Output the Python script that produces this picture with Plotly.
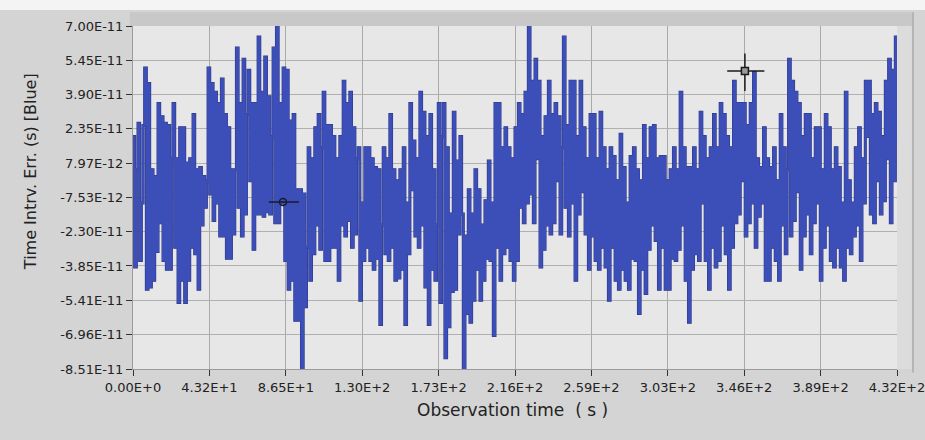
import numpy as np
import plotly.graph_objects as go

time_err_ps = [
    20, -39, 5, 26, -36, -10, 25, 51, -49, 44, -48, 5, -45, 2, -32,
    35, -19, 29, -36, 26, -40, 25, -40, 10, 35, -30, 10, -55, 24, -45,
    24, -55, 8, -45, 10, -30, 30, -33, 5, -49, 6, -20, 2, -12, 0,
    51, -6, 44, -18, 40, -10, 35, -25, 46, -25, 30, -35, 24, -35, 5,
    -24, 5, 60, -12, 35, -25, 55, -15, 30, 50, 0, 35, -31, 35, -15,
    65, -15, 40, -16, 56, -14, 38, -15, 20, 60, -19, 70, -19, 35, -10,
    51, -36, 50, -49, 27, -45, 30, -63, -4, -63, -4, -85, -6, -57, -30,
    15, -45, 10, -33, 24, -20, 30, -31, 15, 40, -36, 25, -36, 25, -30,
    20, -30, 10, -45, 20, -20, 45, -25, 35, -18, 40, -30, 24, -24, 10,
    15, -54, -10, -36, 15, -30, 15, -36, 10, -40, 6, -35, 5, -65, -20,
    15, -33, 10, -36, 30, -30, 5, -45, 0, -44, 5, -40, 15, -65, -10,
    -33, 35, -4, 18, -25, 10, -30, 40, -20, 31, -48, 20, -65, 30, -40,
    5, -45, -20, 35, -55, 20, 35, -80, 15, -66, -15, -50, 31, -49, 9,
    -24, 20, -15, -85, -25, -60, -4, -64, -15, -54, 5, -40, -4, -54, -20,
    -45, -9, -35, 9, -36, -10, -70, 35, -30, 35, -45, 15, -33, 24, -30,
    15, -36, 10, -45, 24, -36, 35, -12, 30, -19, 40, -10, 70, -6, 45,
    -19, 55, 10, 45, -39, 20, -31, 29, -20, 45, -24, 30, -19, 35, 0,
    29, -24, 15, 65, -12, 25, -25, 45, -10, 45, -45, 20, -15, 45, -5,
    24, -24, 10, -40, 30, -25, 30, -36, 10, -40, 31, -30, 15, -39, 5,
    -54, 15, -30, 11, -45, 0, -49, 21, -40, 6, -45, -10, -49, 11, -35,
    15, -36, 5, -60, 0, -40, 25, -51, 10, -31, 24, -20, 25, -27, 10,
    -49, 11, -30, 11, -49, 0, -49, 5, -35, 15, -36, 5, -31, 40, -20,
    15, -45, 6, -64, 6, -40, 15, -33, 5, -36, 31, -10, 20, -36, 10,
    -49, 15, -30, 30, -39, 15, -36, 35, -20, 30, -33, 20, -49, 15, -30,
    45, -19, 35, -15, 35, 0, 35, -25, 25, -19, 35, -10, 49, -30, 10,
    -16, 6, -10, 24, -45, 10, -45, 6, -30, 15, -36, 0, -45, 30, -20,
    15, -33, 5, 55, -25, 45, -18, 40, -5, 35, -40, 20, -25, 30, -15,
    30, -33, 10, -19, 24, -10, 24, -45, 5, -30, 30, -20, 24, -36, 5,
    -39, 15, -30, 6, -39, -10, -45, 40, -30, 0, -33, -10, -25, 15, -20,
    24, -36, 10, -10, 45, 20, 45, -15, 30, -19, 35, 0, 31, -15, 20,
    -9, 45, 10, 55, -19, 50, 0, 65, 18,
]

obs_span_s = 432.0

x_tick_vals = [0, 43.2, 86.4, 129.6, 172.8, 216.0, 259.2, 302.4, 345.6, 388.8, 432.0]
x_tick_text = ["0.00E+0", "4.32E+1", "8.65E+1", "1.30E+2", "1.73E+2", "2.16E+2",
               "2.59E+2", "3.03E+2", "3.46E+2", "3.89E+2", "4.32E+2"]

y_tick_vals = [7.00e-11, 5.45e-11, 3.90e-11, 2.35e-11, 7.97e-12, -7.53e-12,
               -2.30e-11, -3.85e-11, -5.41e-11, -6.96e-11, -8.51e-11]
y_tick_text = ["7.00E-11", "5.45E-11", "3.90E-11", "2.35E-11", "7.97E-12", "-7.53E-12",
               "-2.30E-11", "-3.85E-11", "-5.41E-11", "-6.96E-11", "-8.51E-11"]

x_title = "Observation time  ( s )"
y_title = "Time Intrv. Err. (s) [Blue]"

# cursor positions (time s, value ps)
cursor_t = [84.8, 346.0]
cursor_v = [-9.6, 49.6]

vals = np.array(time_err_ps, dtype=float) * 1e-12
t = np.arange(len(vals)) * (obs_span_s / (len(vals) - 1))

fig = go.Figure()
fig.add_trace(go.Scatter(x=t, y=vals, mode="lines", line_shape="hv",
                         line=dict(color="#2b3384", width=3.0), hoverinfo="skip",
                         showlegend=False))
fig.add_trace(go.Scatter(x=t, y=vals, mode="lines", line_shape="hv",
                         line=dict(color="#3c4fb8", width=2.0),
                         showlegend=False))

# cursors
c1t, c2t = cursor_t
c1v, c2v = cursor_v[0] * 1e-12, cursor_v[1] * 1e-12
fig.add_trace(go.Scatter(x=[c1t - 8, c1t + 9], y=[c1v, c1v], mode="lines",
                         line=dict(color="#1a1a2a", width=1.5), showlegend=False))
fig.add_trace(go.Scatter(x=[c1t], y=[c1v], mode="markers",
                         marker=dict(symbol="circle-open", size=7, color="#1a1a2a",
                                     line=dict(width=1.5)), showlegend=False))
fig.add_trace(go.Scatter(x=[c2t - 10, c2t + 11], y=[c2v, c2v], mode="lines",
                         line=dict(color="#1a1a1a", width=1.5), showlegend=False))
fig.add_trace(go.Scatter(x=[c2t, c2t], y=[c2v + 8e-12, c2v - 9e-12], mode="lines",
                         line=dict(color="#1a1a1a", width=1.5), showlegend=False))
fig.add_trace(go.Scatter(x=[c2t], y=[c2v], mode="markers",
                         marker=dict(symbol="square", size=7, color="#9a9a9a",
                                     line=dict(width=1.5, color="#1a1a1a")), showlegend=False))

font_family = "DejaVu Sans"
fig.update_layout(
    width=925, height=440,
    margin=dict(l=133, r=28, t=26, b=71),
    paper_bgcolor="#d4d4d4",
    plot_bgcolor="#e7e7e7",
    font=dict(family=font_family, color="#222222", size=13),
    xaxis=dict(
        range=[0, obs_span_s], tickvals=x_tick_vals, ticktext=x_tick_text,
        showgrid=True, gridcolor="#a9a9a9", gridwidth=1,
        ticks="outside", ticklen=6, tickcolor="#333333",
        showline=True, linecolor="#9a9a9a", zeroline=False,
        ticklabeloverflow="allow", automargin=False,
        tickfont=dict(size=13, family=font_family, color="#222222"),
    ),
    yaxis=dict(
        range=[-8.51e-11, 7.00e-11], tickvals=y_tick_vals, ticktext=y_tick_text,
        showgrid=True, gridcolor="#b0b0b0", gridwidth=1,
        ticks="outside", ticklen=6, tickcolor="#333333",
        showline=True, linecolor="#9a9a9a", zeroline=False, automargin=False,
        tickfont=dict(size=13, family=font_family, color="#222222"),
    ),
    annotations=[
        dict(text=x_title, xref="paper", yref="paper", x=0.497, y=-0.1195,
             xanchor="center", yanchor="middle", showarrow=False,
             font=dict(size=17, family=font_family, color="#222222")),
        dict(text=y_title, xref="paper", yref="paper", x=-0.1348, y=0.574,
             xanchor="center", yanchor="middle", showarrow=False, textangle=-90,
             font=dict(size=16, family=font_family, color="#222222")),
    ],
    shapes=[
        dict(type="rect", xref="paper", yref="paper", x0=-0.2, x1=1.05, y0=1.0466, y1=1.08,
             fillcolor="#f4f4f4", line=dict(width=0), layer="below"),
        dict(type="rect", xref="paper", yref="paper", x0=-0.004, x1=1.0196, y0=1.0, y1=1.040,
             fillcolor="#c8c8c8", line=dict(width=0), layer="below"),
        dict(type="rect", xref="paper", yref="paper", x0=1.0, x1=1.0196, y0=0.0, y1=1.0,
             fillcolor="#dcdcdc", line=dict(width=0), layer="below"),
        dict(type="line", xref="paper", yref="paper", x0=1.0209, x1=1.0209, y0=-0.01, y1=1.040,
             line=dict(color="#b4b4b4", width=2), layer="below"),
    ],
)

fig.write_html(
    "out.html",
    config={"displayModeBar": False},
    post_script=("document.body.style.margin='0';"
                 "document.body.style.overflow='hidden';"
                 "document.documentElement.style.overflow='hidden';"),
)
